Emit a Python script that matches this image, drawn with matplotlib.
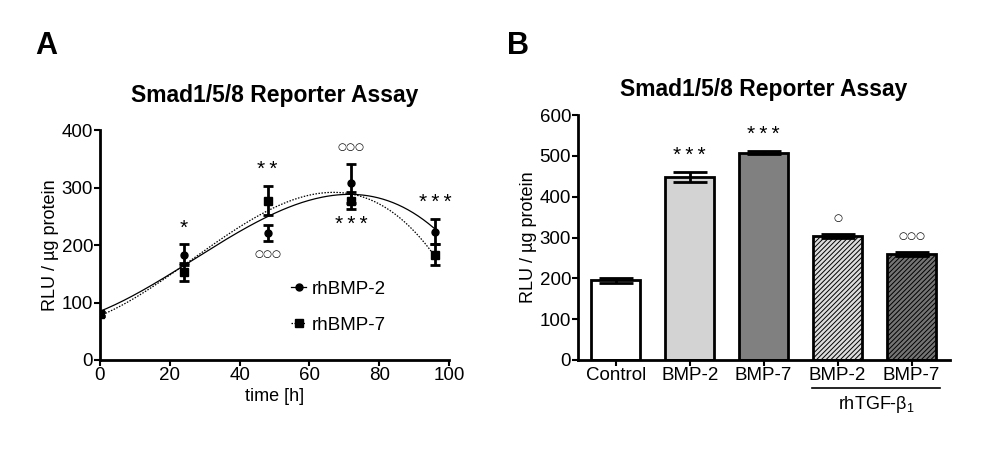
import numpy as np
import matplotlib
matplotlib.use("Agg")
import matplotlib.pyplot as plt
from matplotlib.lines import Line2D
from matplotlib.transforms import blended_transform_factory

plt.rcParams["font.family"] = ["Liberation Sans", "DejaVu Sans"]
plt.rcParams["mathtext.fontset"] = "custom"
plt.rcParams["mathtext.rm"] = "Liberation Sans"
plt.rcParams["mathtext.it"] = "Liberation Sans:italic"
plt.rcParams["hatch.linewidth"] = 0.7

# ---- panel A: time course ----
time_h = [0, 24, 48, 72, 96]
bmp2_mean = [80, 183, 221, 307, 223]
bmp2_err = [4, 18, 14, 34, 22]
bmp7_mean = [80, 153, 277, 277, 183]
bmp7_err = [4, 15, 25, 15, 18]
# significance marks: (x, label, series, above/below)
marks_a = [
    (24, "*", "bmp2", "above"),
    (48, "**", "bmp7", "above"),
    (48, "○○○", "bmp2", "below"),
    (72, "○○○", "bmp2", "above"),
    (72, "***", "bmp7", "below"),
    (96, "***", "bmp2", "above"),
]

# ---- panel B: bars ----
groups = ["Control", "BMP-2", "BMP-7", "BMP-2", "BMP-7"]
bar_mean = [195, 449, 508, 304, 259]
bar_err = [7, 12, 4, 4, 5]
bar_marks = ["", "***", "***", "○", "○○○"]

bar_colors = ["white", "#d3d3d3", "#808080", "#dcdcdc", "#747474"]
bar_hatch = [None, None, None, "///////", "///////"]


def stars(s):
    # spread the asterisks a little like the original
    return "\u2009".join(s)


fig = plt.figure(figsize=(9.98, 4.53), dpi=100)
axA = fig.add_axes([0.1002, 0.2053, 0.3497, 0.5077])
axB = fig.add_axes([0.5792, 0.2053, 0.3727, 0.5408])

tick_kw = dict(direction="out", length=4, width=1.5, labelsize=13.5, pad=1)
lab_fs = 13

# panel A
xs = np.linspace(0, 96, 200)
fit2 = np.polyval(np.polyfit(time_h, bmp2_mean, 3), xs)
fit7 = np.polyval(np.polyfit(time_h, bmp7_mean, 3), xs)
axA.plot(xs, fit2, color="black", lw=0.9, ls="-")
axA.plot(xs, fit7, color="black", lw=0.9, ls=(0, (1.2, 1.2)))
axA.errorbar(time_h, bmp2_mean, yerr=bmp2_err, fmt="o", color="black",
             ms=5, capsize=3.5, elinewidth=2, capthick=2)
axA.errorbar(time_h, bmp7_mean, yerr=bmp7_err, fmt="s", color="black",
             ms=5.5, capsize=3.5, elinewidth=2, capthick=2)

series = {"bmp2": (bmp2_mean, bmp2_err), "bmp7": (bmp7_mean, bmp7_err)}
for x, lab, key, where in marks_a:
    m, e = series[key]
    i = time_h.index(x)
    circ = lab.startswith("○")
    if circ:
        fs, fam, txt = 7.5, "DejaVu Sans", lab
    else:
        fs, fam, txt = 15, "Liberation Sans", stars(lab)
    if where == "above":
        y = m[i] + e[i] + (20 if circ else 12)
        va = "bottom"
    else:
        y = m[i] - e[i] - (14 if circ else 10)
        va = "top"
    axA.text(x, y, txt, ha="center", va=va, fontsize=fs,
             family=[fam, "DejaVu Sans"])

axA.set_xlim(0, 100)
axA.set_ylim(0, 400)
axA.set_xticks([0, 20, 40, 60, 80, 100])
axA.set_yticks([0, 100, 200, 300, 400])
axA.tick_params(**tick_kw)
for s in ["top", "right"]:
    axA.spines[s].set_visible(False)
for s in ["left", "bottom"]:
    axA.spines[s].set_linewidth(2)
axA.set_xlabel("time [h]", fontsize=lab_fs, labelpad=3)
axA.set_ylabel("RLU / µg protein", fontsize=lab_fs, labelpad=2)
axA.set_title("Smad1/5/8 Reporter Assay", fontsize=16.5, fontweight="bold", pad=20)

handles = [
    Line2D([], [], color="black", lw=0.9, marker="o", ms=5),
    Line2D([], [], color="black", lw=0.9, ls=(0, (1.2, 1.2)), marker="s", ms=5.5),
]
axA.legend(handles, ["rhBMP-2", "rhBMP-7"], loc="center left",
           bbox_to_anchor=(0.5, 0.23), frameon=False, fontsize=lab_fs + 0.5,
           handlelength=0.8, handletextpad=0.3, labelspacing=1.0)

# panel B
pos = np.arange(len(groups))
bars = axB.bar(pos, bar_mean, width=0.66, color=bar_colors,
               edgecolor="black", linewidth=2, zorder=2)
for b, h in zip(bars, bar_hatch):
    if h:
        b.set_hatch(h)
axB.errorbar(pos, bar_mean, yerr=bar_err, fmt="none", ecolor="black",
             elinewidth=2, capsize=12, capthick=2, zorder=3)
for p, m, e, lab in zip(pos, bar_mean, bar_err, bar_marks):
    if not lab:
        continue
    if lab.startswith("○"):
        axB.text(p, m + e + 28, lab, ha="center", va="bottom", fontsize=7.5,
                 family="DejaVu Sans")
    else:
        axB.text(p, m + e + 16, stars(lab), ha="center", va="bottom",
                 fontsize=15, family=["Liberation Sans", "DejaVu Sans"])

axB.set_xlim(-0.51, 4.52)
axB.set_ylim(0, 600)
axB.set_yticks(range(0, 601, 100))
axB.set_xticks(pos)
axB.set_xticklabels(groups)
axB.tick_params(**tick_kw)
for s in ["top", "right"]:
    axB.spines[s].set_visible(False)
for s in ["left", "bottom"]:
    axB.spines[s].set_linewidth(2)
axB.set_ylabel("RLU / µg protein", fontsize=lab_fs, labelpad=2)
axB.set_title("Smad1/5/8 Reporter Assay", fontsize=16.5, fontweight="bold", pad=14)

# group bracket for rhTGF-beta1
trB = blended_transform_factory(axB.transData, axB.transAxes)
axB.add_line(Line2D([2.66, 4.38], [-0.116, -0.116], transform=trB,
                    color="black", lw=1.2, clip_on=False))
axB.text(3.52, -0.14, "rhTGF-β$_1$", transform=trB, ha="center", va="top",
         fontsize=lab_fs)

fig.text(0.035, 0.88, "A", fontsize=22, fontweight="bold")
fig.text(0.508, 0.88, "B", fontsize=22, fontweight="bold")

fig.savefig("out.png", dpi=100)
